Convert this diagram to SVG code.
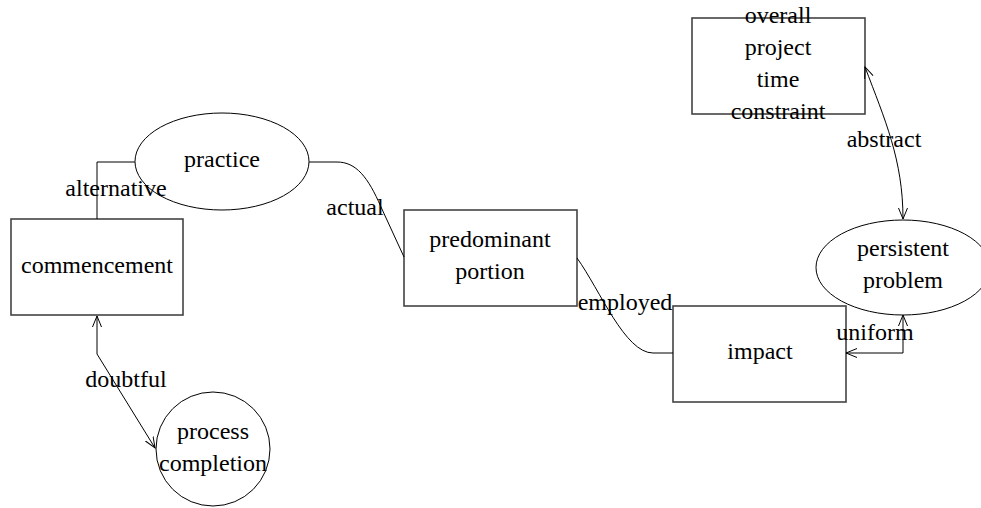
<svg xmlns="http://www.w3.org/2000/svg" width="981" height="508" viewBox="0 0 981 508">
<defs>
<marker id="arr" markerUnits="userSpaceOnUse" markerWidth="14" markerHeight="12" refX="11" refY="5" orient="auto-start-reverse" viewBox="0 0 14 12">
<path d="M0,0.5 L11,5 L0,9.5" fill="none" stroke="#000" stroke-width="1"/>
</marker>
</defs>
<style>
.n{fill:#fff;stroke:#000;stroke-width:1}
.b{fill:#fff;stroke:#444;stroke-width:1.6}
.e{fill:none;stroke:#000;stroke-width:1}
</style>
<rect width="981" height="508" fill="#fff"/>
<g font-family="Liberation Serif, Times New Roman, DejaVu Serif, serif" font-size="24" text-anchor="middle" fill="#000">
<g id="commencement">
<rect class="b" x="11" y="219" width="172" height="96"/>
<text x="97" y="273">commencement</text>
</g>
<g id="practice">
<ellipse class="n" cx="222" cy="161.5" rx="87" ry="48.5"/>
<text x="222" y="167">practice</text>
</g>
<g id="predominant_portion">
<rect class="b" x="404" y="210" width="173" height="96"/>
<text x="490" y="247">predominant</text>
<text x="490" y="279">portion</text>
</g>
<g id="impact">
<rect class="b" x="673" y="306" width="173" height="96"/>
<text x="760" y="359">impact</text>
</g>
<g id="persistent_problem">
<ellipse class="n" cx="903" cy="267.5" rx="87" ry="47.5"/>
<text x="903" y="256">persistent</text>
<text x="903" y="288">problem</text>
</g>
<g id="overall_project_time_constraint">
<rect class="b" x="692" y="18" width="173" height="96"/>
<text x="778" y="23">overall</text>
<text x="778" y="55">project</text>
<text x="778" y="87">time</text>
<text x="778" y="119">constraint</text>
</g>
<g id="process_completion">
<circle class="n" cx="213" cy="449" r="57"/>
<text x="213" y="439">process</text>
<text x="213" y="471">completion</text>
</g>
<g id="connectors">
<path class="e" d="M97,219 V162 H135"/>
<text x="116" y="196">alternative</text>
<path class="e" d="M309,162 H337 C356,162 368,177 381,207 L404,257"/>
<text x="355" y="215">actual</text>
<path class="e" d="M577,258 C600,290 625,353 653,353 H673"/>
<text x="625" y="310">employed</text>
<path class="e" d="M846,353 H903 V315" marker-start="url(#arr)" marker-end="url(#arr)"/>
<text x="875" y="340">uniform</text>
<path class="e" d="M865,67 C885,120 903,160 903,219" marker-start="url(#arr)" marker-end="url(#arr)"/>
<text x="884" y="147">abstract</text>
<path class="e" d="M97,316 V354 L155,448" marker-start="url(#arr)" marker-end="url(#arr)"/>
<text x="126" y="387">doubtful</text>
</g>
</g>
</svg>
